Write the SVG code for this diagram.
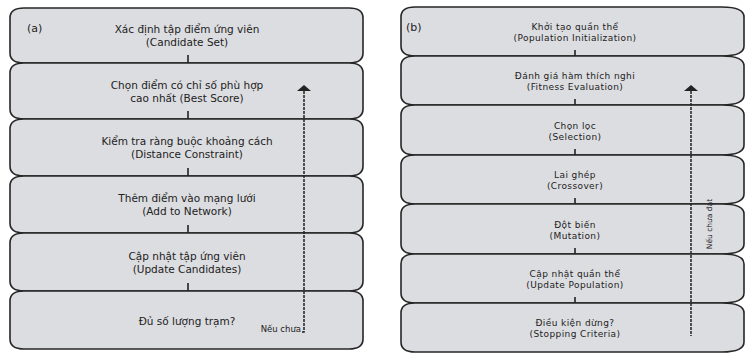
<svg xmlns="http://www.w3.org/2000/svg" width="746" height="356" viewBox="0 0 746 356">
  <style>
    .blk { fill: #dcdde1; stroke: #262626; stroke-width: 1.6; }
    .ta { font-family: "DejaVu Sans", Verdana, sans-serif; font-size: 10.5px; fill: #222; text-anchor: middle; }
    .tb { font-family: "DejaVu Sans", Verdana, sans-serif; font-size: 9px; letter-spacing: 0.4px; fill: #222; text-anchor: middle; }
    .tag { font-family: "DejaVu Sans", Verdana, sans-serif; font-size: 11px; fill: #222; }
    .note { font-family: "DejaVu Sans", Verdana, sans-serif; font-size: 8.5px; fill: #222; }
    .tick { stroke: #222; stroke-width: 1.6; fill: none; }
    .loop { stroke: #222; stroke-width: 1.5; stroke-dasharray: 3 1; fill: none; }
    .head { fill: #222; }
  </style>

  <!-- (a) incremental station placement -->
  <g id="panel-a">
    <g id="a1">
      <path class="blk" d="M24,8 H349 C359,8 363,12 363,18 V53 C363,59 359,63 349,63 H24 C14,63 10,59 10,53 V18 C10,12 14,8 24,8 Z"/>
      <text class="ta" x="187" y="33">Xác định tập điểm ứng viên</text>
      <text class="ta" x="187" y="46">(Candidate Set)</text>
    </g>
    <g id="a2">
      <path class="blk" d="M24,63 H349 C359,63 363,67 363,73 V109 C363,115 359,119 349,119 H24 C14,119 10,115 10,109 V73 C10,67 14,63 24,63 Z"/>
      <text class="ta" x="187" y="89">Chọn điểm có chỉ số phù hợp</text>
      <text class="ta" x="187" y="102">cao nhất (Best Score)</text>
    </g>
    <g id="a3">
      <path class="blk" d="M24,119 H349 C359,119 363,123 363,129 V166 C363,172 359,176 349,176 H24 C14,176 10,172 10,166 V129 C10,123 14,119 24,119 Z"/>
      <text class="ta" x="187" y="145">Kiểm tra ràng buộc khoảng cách</text>
      <text class="ta" x="187" y="158">(Distance Constraint)</text>
    </g>
    <g id="a4">
      <path class="blk" d="M24,176 H349 C359,176 363,180 363,186 V223 C363,229 359,233 349,233 H24 C14,233 10,229 10,223 V186 C10,180 14,176 24,176 Z"/>
      <text class="ta" x="187" y="202">Thêm điểm vào mạng lưới</text>
      <text class="ta" x="187" y="215">(Add to Network)</text>
    </g>
    <g id="a5">
      <path class="blk" d="M24,233 H349 C359,233 363,237 363,243 V281 C363,287 359,291 349,291 H24 C14,291 10,287 10,281 V243 C10,237 14,233 24,233 Z"/>
      <text class="ta" x="187" y="259.5">Cập nhật tập ứng viên</text>
      <text class="ta" x="187" y="272.5">(Update Candidates)</text>
    </g>
    <g id="a6">
      <path class="blk" d="M24,291 H349 C359,291 363,295 363,301 V339 C363,345 359,349 349,349 H24 C14,349 10,345 10,339 V301 C10,295 14,291 24,291 Z"/>
      <text class="ta" x="187" y="324.5">Đủ số lượng trạm?</text>
    </g>
    <text id="a-tag" class="tag" x="27" y="32">(a)</text>
  </g>

  <!-- (b) genetic algorithm loop -->
  <g id="panel-b">
    <g id="b1">
      <path class="blk" d="M415,7 H722 C738,7 744,11 744,17 V46 C744,52 738,56 722,56 H415 C405,56 401,52 401,46 V17 C401,11 405,7 415,7 Z"/>
      <text class="tb" x="575" y="30">Khởi tạo quần thể</text>
      <text class="tb" x="575" y="41">(Population Initialization)</text>
    </g>
    <g id="b2">
      <path class="blk" d="M415,56 H722 C738,56 744,60 744,66 V95 C744,101 738,105 722,105 H415 C405,105 401,101 401,95 V66 C401,60 405,56 415,56 Z"/>
      <text class="tb" x="575" y="79">Đánh giá hàm thích nghi</text>
      <text class="tb" x="575" y="90">(Fitness Evaluation)</text>
    </g>
    <g id="b3">
      <path class="blk" d="M415,105 H722 C738,105 744,109 744,115 V145 C744,151 738,155 722,155 H415 C405,155 401,151 401,145 V115 C401,109 405,105 415,105 Z"/>
      <text class="tb" x="575" y="128.5">Chọn lọc</text>
      <text class="tb" x="575" y="139.5">(Selection)</text>
    </g>
    <g id="b4">
      <path class="blk" d="M415,155 H722 C738,155 744,159 744,165 V194 C744,200 738,204 722,204 H415 C405,204 401,200 401,194 V165 C401,159 405,155 415,155 Z"/>
      <text class="tb" x="575" y="178">Lai ghép</text>
      <text class="tb" x="575" y="189">(Crossover)</text>
    </g>
    <g id="b5">
      <path class="blk" d="M415,204 H722 C738,204 744,208 744,214 V244 C744,250 738,254 722,254 H415 C405,254 401,250 401,244 V214 C401,208 405,204 415,204 Z"/>
      <text class="tb" x="575" y="227.5">Đột biến</text>
      <text class="tb" x="575" y="238.5">(Mutation)</text>
    </g>
    <g id="b6">
      <path class="blk" d="M415,254 H722 C738,254 744,258 744,264 V293 C744,299 738,303 722,303 H415 C405,303 401,299 401,293 V264 C401,258 405,254 415,254 Z"/>
      <text class="tb" x="575" y="277">Cập nhật quần thể</text>
      <text class="tb" x="575" y="288">(Update Population)</text>
    </g>
    <g id="b7">
      <path class="blk" d="M415,303 H722 C738,303 744,307 744,313 V342 C744,348 738,352 722,352 H415 C405,352 401,348 401,342 V313 C401,307 405,303 415,303 Z"/>
      <text class="tb" x="575" y="326">Điều kiện dừng?</text>
      <text class="tb" x="575" y="337">(Stopping Criteria)</text>
    </g>
    <text id="b-tag" class="tag" x="406" y="31">(b)</text>
  </g>

  <!-- step links and feedback loops -->
  <g id="connectors">
    <path class="tick" d="M188,55 V63 M188,111 V119 M188,168 V176 M188,225 V233 M188,283 V291"/>
    <path class="tick" d="M575,50 V56 M575,99 V105 M575,149 V155 M575,198 V204 M575,248 V254 M575,297 V303"/>

    <path class="loop" d="M304,91 V332 H302"/>
    <polygon class="head" points="297,91 311,91 304,85"/>
    <text class="note" x="301" y="332" text-anchor="end">Nếu chưa</text>

    <path class="loop" d="M691,91 V336"/>
    <polygon class="head" points="684,91 698,91 691,85"/>
    <text class="note" transform="translate(712,224) rotate(-90)" text-anchor="middle" style="font-size:7.5px">Nếu chưa đạt</text>
  </g>
</svg>
